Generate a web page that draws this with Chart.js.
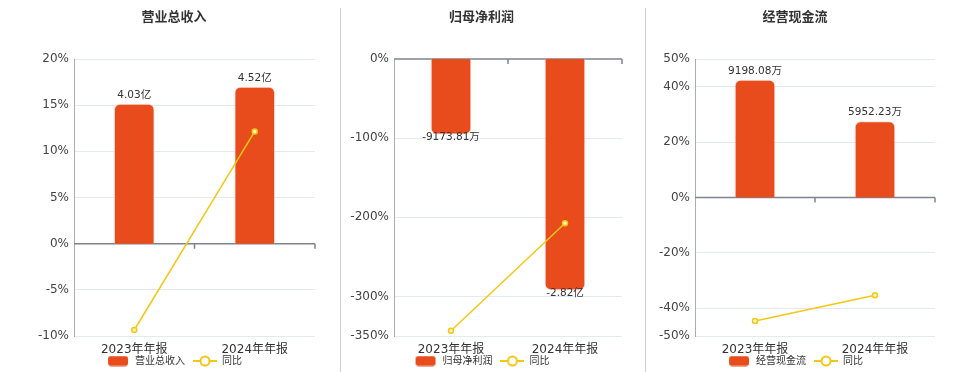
<!DOCTYPE html>
<html>
<head>
<meta charset="utf-8">
<script src="https://cdn.jsdelivr.net/npm/chart.js@4.4.1/dist/chart.umd.min.js"></script>
<style>
  html, body { margin: 0; padding: 0; background: #fff; }
  body { width: 960px; height: 372px; overflow: hidden; position: relative; }
  .box { position: absolute; top: 0; height: 376px; }
  .sep { position: absolute; top: 8px; width: 1px; height: 364px; background: #d0d0d0; }
</style>
</head>
<body>
<div class="box" style="left:0;width:340px"><canvas id="c1"></canvas></div>
<div class="sep" style="left:340px"></div>
<div class="box" style="left:341px;width:290px"><canvas id="c2"></canvas></div>
<div class="sep" style="left:645px"></div>
<div class="box" style="left:648px;width:296px"><canvas id="c3"></canvas></div>
<script>
'use strict';
// data
let categories = ['2023年年报', '2024年年报'];

let revenueName = '营业总收入';
let revenueValues = [4.03, 4.52]; // 亿
let revenueLabels = ['4.03亿', '4.52亿'];
let revenueYoy = [-9.35, 12.16];
let revenueTicks = [20, 15, 10, 5, 0, -5, -10];

let profitName = '归母净利润';
let profitValues = [-0.917381, -2.82]; // 亿
let profitLabels = ['-9173.81万', '-2.82亿'];
let profitYoy = [-343.4, -207.5];
let profitTicks = [0, -100, -200, -300, -350];

let cashName = '经营现金流';
let cashValues = [0.919808, 0.595223]; // 亿
let cashLabels = ['9198.08万', '5952.23万'];
let cashYoy = [-44.6, -35.29];
let cashTicks = [50, 40, 20, 0, -20, -40, -50];

let yoyName = '同比';

// colors + fonts
let barColor = '#e84c1d';
let lineColor = '#f3c716';
let fontFamily = 'Verdana, "DejaVu Sans", "Noto Sans CJK SC", sans-serif';

// legend icons
function barIcon() {
    let c = document.createElement('canvas');
    c.width = 22; c.height = 11;
    let ctx = c.getContext('2d');
    ctx.fillStyle = barColor;
    ctx.beginPath();
    ctx.roundRect(1, 0.5, 20, 10, 3);
    ctx.fill();
    return c;
}
function lineIcon() {
    let c = document.createElement('canvas');
    c.width = 24; c.height = 12;
    let ctx = c.getContext('2d');
    ctx.strokeStyle = lineColor;
    ctx.lineWidth = 2;
    ctx.beginPath();
    ctx.moveTo(0, 6); ctx.lineTo(24, 6);
    ctx.stroke();
    ctx.fillStyle = '#fff';
    ctx.beginPath();
    ctx.arc(12, 6, 4.5, 0, Math.PI * 2);
    ctx.fill();
    ctx.stroke();
    return c;
}
let barImg = barIcon();
let lineImg = lineIcon();

// labels on bars
let barLabelPlugin = {
    id: 'barLabels',
    afterDatasetsDraw(chart) {
        let ctx = chart.ctx;
        let meta = chart.getDatasetMeta(0);
        let texts = chart.options.plugins.barLabels.texts;
        ctx.save();
        ctx.font = '10.5px ' + fontFamily;
        ctx.fillStyle = '#333';
        ctx.textAlign = 'center';
        meta.data.forEach(function (bar, i) {
            let v = chart.data.datasets[0].data[i];
            if (v >= 0) {
                ctx.textBaseline = 'bottom';
                ctx.fillText(texts[i], bar.x, bar.y - 4);
            } else {
                ctx.textBaseline = 'top';
                ctx.fillText(texts[i], bar.x, bar.y - 2);
            }
        });
        ctx.restore();
    }
};

// zero line with small ticks, and let x labels draw past the squeezed axis box
let zeroLinePlugin = {
    id: 'zeroLine',
    afterLayout(chart) {
        chart.scales.x.bottom = chart.height;
    },
    beforeDatasetsDraw(chart) {
        let ctx = chart.ctx;
        let x = chart.scales.x;
        let y0 = chart.scales.y.getPixelForValue(0);
        let area = chart.chartArea;
        ctx.save();
        ctx.strokeStyle = '#7d8390';
        ctx.lineWidth = 1.5;
        ctx.beginPath();
        ctx.moveTo(area.left, y0); ctx.lineTo(area.right, y0);
        let mid = (x.getPixelForValue(0) + x.getPixelForValue(1)) / 2;
        [mid, area.right].forEach(function (px) {
            ctx.moveTo(px, y0); ctx.lineTo(px, y0 + 5);
        });
        ctx.stroke();
        ctx.restore();
    }
};

function makeChart(id, opts) {
    let ctx = document.getElementById(id).getContext('2d');
    let yMin = Math.min.apply(null, opts.ticks);
    let yMax = Math.max.apply(null, opts.ticks);
    // keep bar zero on the same pixel as 0%
    let b1, b0;
    if (yMax > 0) {
        b1 = Math.max.apply(null, opts.bars) * 1.18;
        b0 = b1 * yMin / yMax;
    } else {
        b0 = Math.min.apply(null, opts.bars) * 1.2;
        b1 = 0;
    }
    return new Chart(ctx, {
        data: {
            labels: categories,
            datasets: [{
                type: 'bar',
                label: opts.name,
                data: opts.bars,
                yAxisID: 'y1',
                backgroundColor: barColor,
                borderColor: 'rgba(255,200,185,0.6)',
                borderWidth: 1,
                borderRadius: 6,
                barThickness: 40,
                order: 2
            }, {
                type: 'line',
                label: yoyName,
                data: opts.yoy,
                yAxisID: 'y',
                borderColor: lineColor,
                borderWidth: 1.5,
                pointRadius: 2.5,
                pointBorderWidth: 1.5,
                pointBackgroundColor: '#fff6c8',
                pointBorderColor: lineColor,
                order: 1
            }]
        },
        options: {
            responsive: true,
            maintainAspectRatio: false,
            animation: false,
            layout: { padding: { left: opts.padLeft, right: opts.padRight, top: 0, bottom: 0 } },
            plugins: {
                title: {
                    display: true,
                    text: opts.name,
                    color: '#333',
                    font: { size: 13, weight: 'bold', family: fontFamily },
                    padding: { top: 10, bottom: 33.4 }
                },
                legend: {
                    position: 'bottom',
                    labels: {
                        usePointStyle: true,
                        pointStyleWidth: 24,
                        padding: 8,
                        color: '#333',
                        font: { size: 10, family: fontFamily },
                        generateLabels(chart) {
                            return chart.data.datasets.map(function (ds, i) {
                                return {
                                    text: ds.label,
                                    pointStyle: i === 0 ? barImg : lineImg,
                                    fillStyle: 'transparent',
                                    strokeStyle: 'transparent',
                                    lineWidth: 0,
                                    fontColor: '#333',
                                    datasetIndex: i,
                                    hidden: false
                                };
                            });
                        }
                    }
                },
                tooltip: { enabled: false },
                barLabels: { texts: opts.texts }
            },
            scales: {
                x: {
                    grid: { display: false, drawTicks: false },
                    border: { display: false },
                    ticks: { color: '#333', padding: 7, font: { size: 12, family: fontFamily } },
                    afterFit(scale) { scale.height = 12; }
                },
                y: {
                    position: 'left',
                    min: yMin,
                    max: yMax,
                    afterBuildTicks(scale) {
                        scale.ticks = opts.ticks.map(function (v) { return { value: v }; });
                    },
                    afterFit(scale) { scale.width = opts.axisWidth; },
                    grid: {
                        color: function (c) { return c.tick && c.tick.value === 0 ? 'rgba(0,0,0,0)' : '#e3e8f3'; },
                        drawTicks: false
                    },
                    border: { display: true, color: '#a9adb8', width: 1 },
                    ticks: {
                        color: '#444',
                        padding: 5,
                        font: { size: 12, family: fontFamily },
                        callback: function (v) { return v + '%'; }
                    }
                },
                y1: {
                    display: false,
                    min: b0,
                    max: b1
                }
            }
        },
        plugins: [zeroLinePlugin, barLabelPlugin]
    });
}

makeChart('c1', { name: revenueName, bars: revenueValues, texts: revenueLabels, yoy: revenueYoy, ticks: revenueTicks, axisWidth: 41, padLeft: 33, padRight: 25 });
makeChart('c2', { name: profitName, bars: profitValues, texts: profitLabels, yoy: profitYoy, ticks: profitTicks, axisWidth: 53, padLeft: 0, padRight: 9 });
makeChart('c3', { name: cashName, bars: cashValues, texts: cashLabels, yoy: cashYoy, ticks: cashTicks, axisWidth: 40, padLeft: 7, padRight: 9 });
</script>
</body>
</html>
